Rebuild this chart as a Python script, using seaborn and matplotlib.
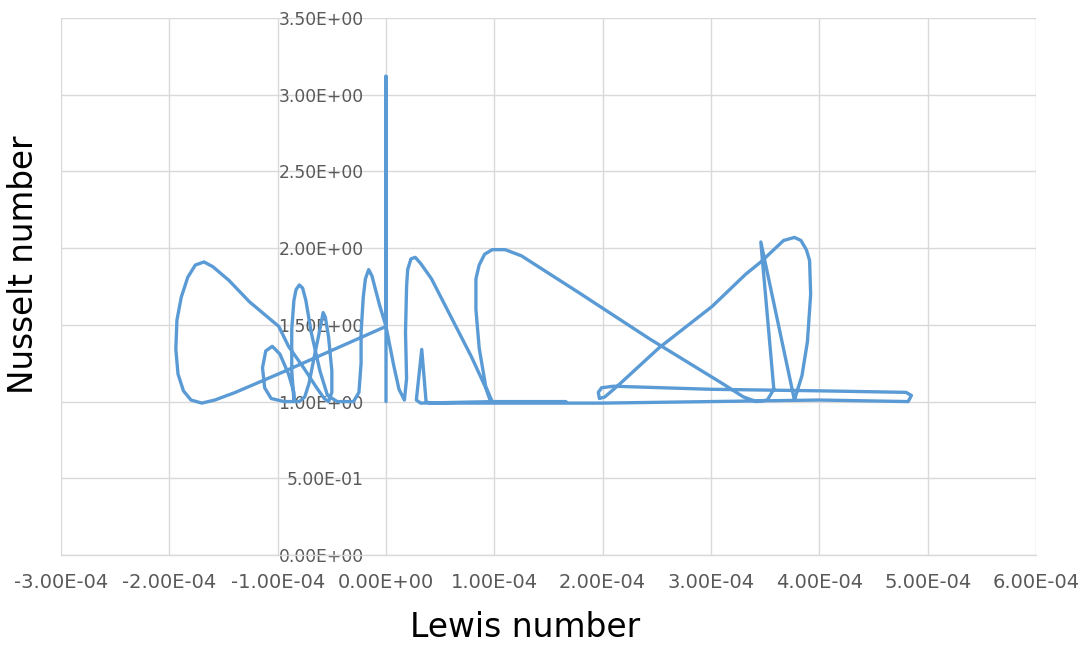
import numpy as np
import pandas as pd
import matplotlib
matplotlib.use("Agg")
import matplotlib.pyplot as plt
import seaborn as sns

# Lewis number in units of 1e-4 in order
lewis_e4 = [
    0.00, 0.00, 0.00,
    -0.48, -0.96, -1.39, -1.58, -1.70,
    -1.80, -1.87, -1.92, -1.94, -1.93, -1.89, -1.83, -1.76, -1.68, -1.60, -1.45, -1.26,
    -0.99, -0.90, -0.76, -0.64, -0.57, -0.53,
    -0.50, -0.50, -0.53, -0.56, -0.58, -0.61, -0.66, -0.71, -0.75, -0.80,
    -0.94, -1.06, -1.12, -1.14, -1.11, -1.05, -0.98, -0.90, -0.85, -0.85,
    -0.87, -0.87, -0.85, -0.83, -0.80, -0.77, -0.74, -0.69, -0.61, -0.54, -0.45,
    -0.30, -0.25, -0.23, -0.23, -0.21, -0.19, -0.16, -0.13, -0.06, 0.00, 0.07, 0.12, 0.17,
    0.19, 0.18, 0.19, 0.20, 0.23, 0.27, 0.32, 0.42, 0.58, 0.79, 0.92, 0.96, 0.98,
    0.92, 0.86, 0.83, 0.83, 0.86, 0.91, 0.98, 1.10, 1.25, 1.78, 2.43, 3.10, 3.30, 3.42, 3.52, 3.58,
    3.46, 3.77,
    3.84, 3.89, 3.92, 3.91, 3.88, 3.83, 3.77, 3.67, 3.46, 3.32, 3.01, 2.52, 2.15, 2.02, 1.97,
    1.96, 1.99, 2.10, 3.00, 4.00, 4.80, 4.85, 4.82, 4.00, 3.00, 2.00, 1.00, 0.40,
    0.37, 0.33, 0.28, 0.32, 1.00, 1.66,
]
nusselt = [
    1.00, 3.12, 1.49,
    1.34, 1.19, 1.06, 1.01, 0.99,
    1.01, 1.07, 1.18, 1.34, 1.53, 1.68, 1.81, 1.89, 1.91, 1.88, 1.79, 1.65,
    1.49, 1.36, 1.22, 1.09, 1.02, 1.00,
    1.06, 1.20, 1.42, 1.55, 1.58, 1.47, 1.30, 1.12, 1.03, 1.00,
    1.00, 1.02, 1.09, 1.22, 1.33, 1.36, 1.31, 1.18, 1.06, 1.01,
    1.20, 1.47, 1.66, 1.73, 1.76, 1.74, 1.66, 1.45, 1.20, 1.04, 1.00,
    1.00, 1.06, 1.25, 1.45, 1.68, 1.80, 1.86, 1.82, 1.63, 1.49, 1.24, 1.08, 1.01,
    1.15, 1.45, 1.75, 1.86, 1.93, 1.94, 1.90, 1.80, 1.58, 1.29, 1.09, 1.01, 1.00,
    1.10, 1.35, 1.60, 1.80, 1.89, 1.96, 1.99, 1.99, 1.95, 1.71, 1.41, 1.12, 1.03, 1.00, 1.01, 1.08,
    2.04, 1.01,
    1.17, 1.39, 1.70, 1.92, 1.99, 2.05, 2.07, 2.05, 1.91, 1.83, 1.62, 1.35, 1.11, 1.03, 1.02,
    1.06, 1.09, 1.10, 1.08, 1.07, 1.06, 1.04, 1.00, 1.01, 1.00, 0.99, 0.99, 0.99,
    1.00, 1.34, 1.01, 0.99, 1.00, 1.00,
]

x_ticks = [-3e-4, -2e-4, -1e-4, 0.0, 1e-4, 2e-4, 3e-4, 4e-4, 5e-4, 6e-4]
x_tick_labels = ["-3.00E-04", "-2.00E-04", "-1.00E-04", "0.00E+00", "1.00E-04",
                 "2.00E-04", "3.00E-04", "4.00E-04", "5.00E-04", "6.00E-04"]
y_ticks = [0.0, 0.5, 1.0, 1.5, 2.0, 2.5, 3.0, 3.5]
y_tick_labels = ["0.00E+00", "5.00E-01", "1.00E+00", "1.50E+00", "2.00E+00",
                 "2.50E+00", "3.00E+00", "3.50E+00"]

sns.set_theme(style="white")
plt.rcParams["font.family"] = ["DejaVu Sans"]
plt.rcParams["axes.unicode_minus"] = False
plt.rcParams["ytick.major.pad"] = 16
plt.rcParams["xtick.major.pad"] = 13
plt.rcParams["ytick.major.size"] = 0
plt.rcParams["xtick.major.size"] = 0

fig = plt.figure(figsize=(10.88, 6.46), dpi=100)
ax = fig.add_axes([61 / 1088, 1 - 555 / 646, 975 / 1088, 537 / 646])

df = pd.DataFrame({"Lewis": np.array(lewis_e4) * 1e-4, "Nusselt": nusselt})
sns.lineplot(data=df, x="Lewis", y="Nusselt", sort=False, estimator=None,
             color="#5B9BD5", linewidth=2.4, ax=ax,
             solid_joinstyle="round", solid_capstyle="round")

for s in ["top", "right"]:
    ax.spines[s].set_visible(False)
ax.spines["left"].set_position(("data", 0))
ax.spines["left"].set_color("none")
ax.spines["bottom"].set_color("#D9D9D9")
ax.spines["bottom"].set_linewidth(1)

ax.set_xlim(-3e-4, 6e-4)
ax.set_ylim(0, 3.5)
ax.set_xticks(x_ticks)
ax.set_xticklabels(x_tick_labels, fontsize=14, color="#595959")
ax.set_yticks(y_ticks)
ax.set_yticklabels(y_tick_labels, fontsize=12.3, color="#595959")
ax.xaxis.set_tick_params(which="both", length=0, pad=13)
ax.yaxis.set_tick_params(which="both", length=0, pad=16)

ax.grid(True, color="#D9D9D9", linewidth=1)
ax.set_axisbelow(True)

ax.set_xlabel("Lewis number", fontsize=23.7, color="black")
ax.set_ylabel("Nusselt number", fontsize=23.5, color="black")
ax.xaxis.set_label_coords(0.476, -0.105)
ax.yaxis.set_label_coords(-0.022, 0.54)

fig.savefig("out.png", dpi=100, facecolor="white")
